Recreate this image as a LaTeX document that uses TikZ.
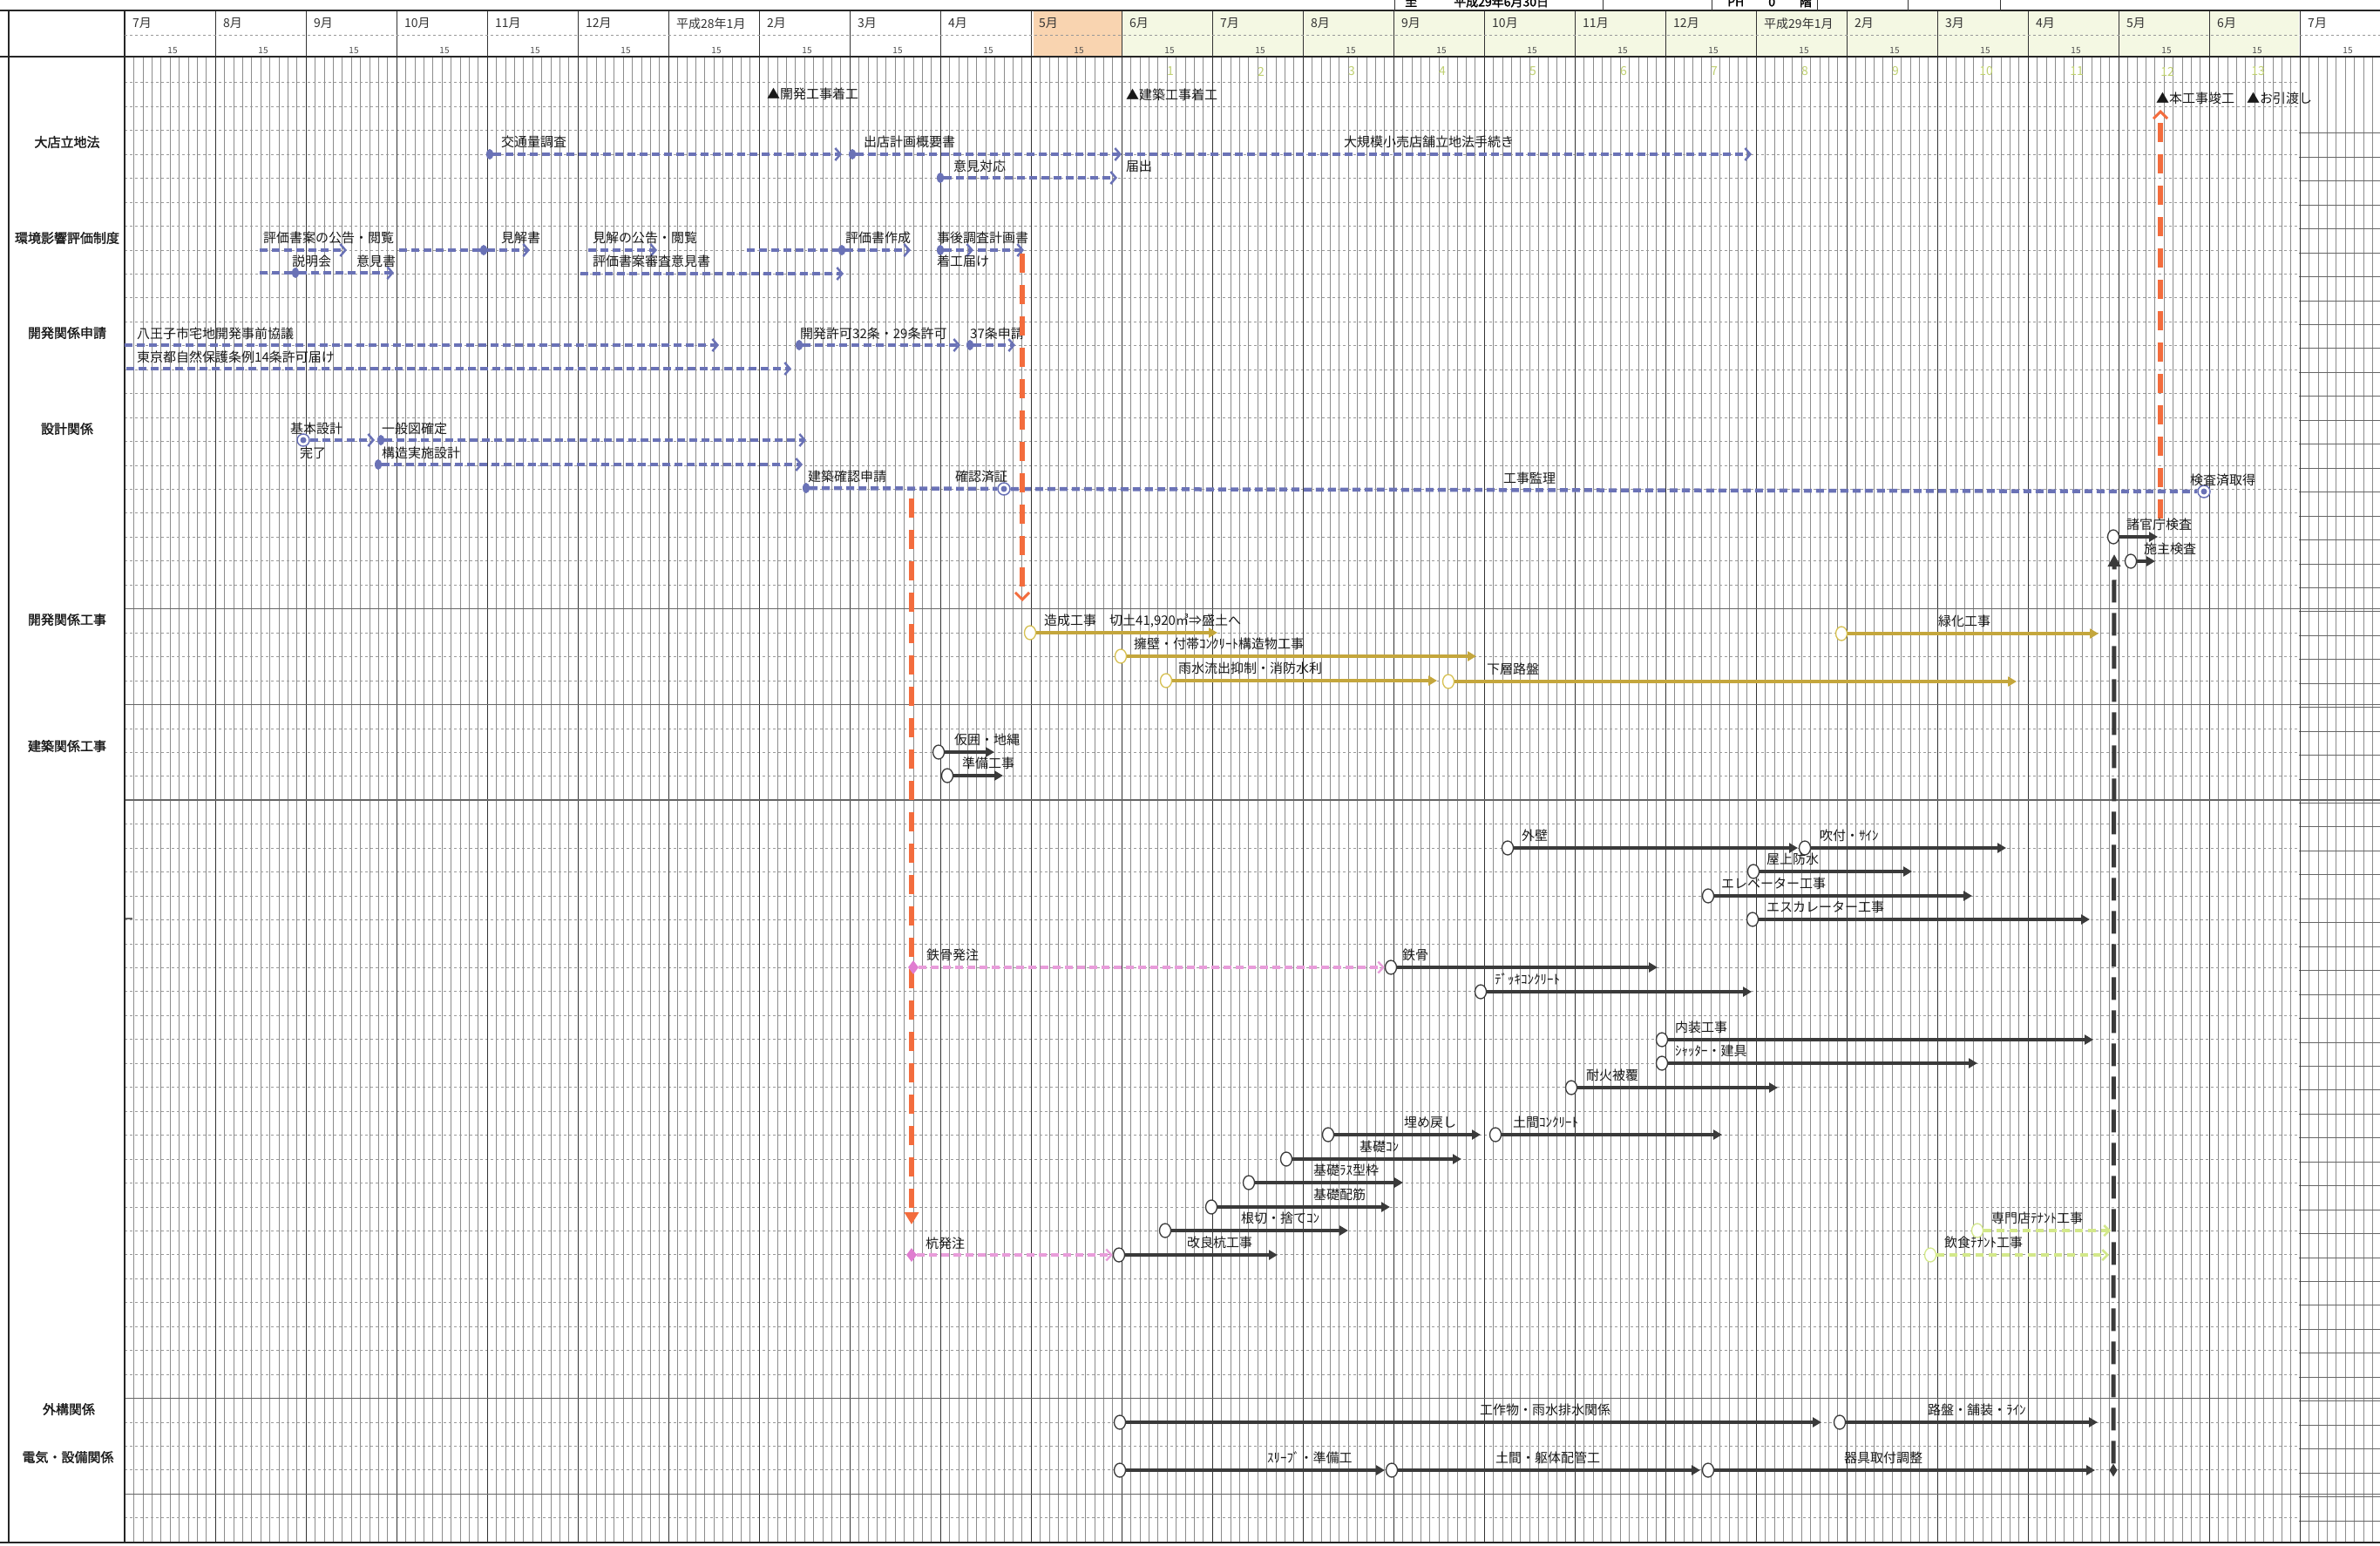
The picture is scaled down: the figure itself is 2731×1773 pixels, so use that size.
\documentclass[tikz,border=0pt]{standalone}
\usepackage{fontspec}
\setmainfont{Noto Sans CJK JP}
\newfontfamily\cjkb[FakeBold=1.6]{Noto Sans CJK JP}
\usetikzlibrary{arrows.meta,shapes.geometric}
\definecolor{bluec}{HTML}{6A72B6}
\definecolor{orangec}{HTML}{F36C3D}
\definecolor{goldc}{HTML}{C4A63C}
\definecolor{goldring}{HTML}{D6C050}
\definecolor{pinkc}{HTML}{E89CDA}
\definecolor{pinkd}{HTML}{E07CD0}
\definecolor{limec}{HTML}{D3E88A}
\definecolor{darkc}{HTML}{3A3A3A}
\definecolor{peach}{HTML}{F9D4B0}
\definecolor{cream}{HTML}{F4F8E3}
\definecolor{numc}{HTML}{BFD070}
\tikzset{
 lbl/.style={font=\fontsize{15}{17}\selectfont, inner sep=0pt, anchor=west, text=black!90},
 cat/.style={font=\cjkb\fontsize{15}{17}\selectfont, inner sep=0pt, text=black!90},
 mon/.style={font=\fontsize{14}{16}\selectfont, inner sep=0pt, anchor=west, text=black!80},
 fif/.style={font=\fontsize{10}{12}\selectfont, inner sep=0pt, text=black!70},
 numl/.style={font=\fontsize{14}{16}\selectfont, inner sep=0pt, text=numc},
 subl/.style={draw=black!45, line width=0.6pt},
 hdot/.style={draw=black!40, line width=0.6pt, dash pattern=on 2.5pt off 3.5pt},
 rstrip/.style={draw=black!60, line width=0.9pt},
 monl/.style={draw=black!80, line width=1pt},
 secl/.style={draw=black!60, line width=1.4pt},
 frame/.style={draw=black!85, line width=1.6pt},
 bluebar/.style={draw=bluec, line width=4.5pt, dash pattern=on 9pt off 5pt},
 bluearr/.style={bluebar, -{Straight Barb[length=6pt,width=14pt,line width=2.5pt]}},
 bdot/.style={ellipse, fill=bluec, inner sep=0pt, minimum width=8pt, minimum height=12pt},
 bring/.style={circle, draw=bluec, line width=1.5pt, fill=white, inner sep=0pt, minimum size=14pt},
 sdot/.style={circle, fill=bluec, inner sep=0pt, minimum size=7pt},
 blkbar/.style={draw=darkc, line width=4pt, -{Triangle[length=10pt,width=11pt]}},
 ocirc/.style={ellipse, draw=darkc, line width=1.3pt, fill=white, inner sep=0pt, minimum width=13pt, minimum height=16pt},
 goldbar/.style={draw=goldc, line width=4pt, -{Triangle[length=10pt,width=11pt]}},
 gcirc/.style={ellipse, draw=goldring, line width=1.3pt, fill=white, inner sep=0pt, minimum width=13pt, minimum height=16pt},
 limebar/.style={draw=limec, line width=4pt, dash pattern=on 9pt off 6pt, -{Straight Barb[length=6pt,width=12pt,line width=2.5pt]}},
 lcirc/.style={ellipse, draw=limec, line width=1.3pt, fill=white, inner sep=0pt, minimum width=13pt, minimum height=16pt},
 pinkbar/.style={draw=pinkc, line width=3.5pt, dash pattern=on 9pt off 5pt, -{Straight Barb[length=6pt,width=13pt,line width=2.3pt]}},
 pdia/.style={diamond, fill=pinkd, inner sep=0pt, minimum width=12pt, minimum height=16pt},
 orarr/.style={draw=orangec, line width=5.5pt, dash pattern=on 22pt off 14pt, -{Straight Barb[length=8pt,width=16pt,line width=3pt]}},
 ortri/.style={draw=orangec, line width=5.5pt, dash pattern=on 22pt off 14pt, -{Triangle[length=14pt,width=16pt]}},
 blkdash/.style={draw=darkc, line width=5pt, dash pattern=on 26pt off 12pt, -{Triangle[length=14pt,width=14pt]}},
 bdia/.style={diamond, fill=darkc, inner sep=0pt, minimum width=9pt, minimum height=15pt},
}
\newcommand\bk[6]{%
 \node[ocirc] (#1s) at (#2,#4) {};
 \coordinate (#1e) at (#3,#4);
 \draw[blkbar] (#1s) -- (#1e);
 \node[lbl] (#1l) at (#5,#4-14) {#6};}
\newcommand\gd[6]{%
 \node[gcirc] (#1s) at (#2,#4) {};
 \coordinate (#1e) at (#3,#4);
 \draw[goldbar] (#1s) -- (#1e);
 \node[lbl] (#1l) at (#5,#4-14) {#6};}
\newcommand\lm[6]{%
 \node[lcirc] (#1s) at (#2,#4) {};
 \coordinate (#1e) at (#3,#4);
 \draw[limebar] (#1s) -- (#1e);
 \node[lbl] (#1l) at (#5,#4-14) {#6};}
\begin{document}
\begin{tikzpicture}[x=1pt,y=-1pt]
\useasboundingbox (0,0) rectangle (2731,1773);
\clip (0,0) rectangle (2731,1773);
\fill[white] (0,0) rectangle (2731,1773);
% header fills
\fill[peach] (1186,12) rectangle (1288,65);
\fill[cream] (1288,12) rectangle (2638,65);
% grid
\foreach \m in {0,...,24}{\foreach \j in {1,...,9}{\draw[subl] ({143+104*\m+10.4*\j},65) -- ({143+104*\m+10.4*\j},1770);}}
\foreach \k in {1,...,61}{\draw[hdot] (143,{67.2+27.45*\k}) -- (2638,{67.2+27.45*\k});}
\foreach \k in {3,...,61}{\draw[rstrip] (2638,{70.5+27.45*\k}) -- (2731,{70.5+27.45*\k});}
\foreach \m in {0,...,24}{\draw[monl] ({143+104*\m},12) -- ({143+104*\m},1770);}
\foreach \k in {23,27,31,56,60}{\draw[secl] (143,{67.2+27.45*\k}) -- (2731,{67.2+27.45*\k});}
\draw[secl] (143,1054) -- (152,1054);
% frame
\draw[frame] (10,12) -- (10,1770);
\draw[frame] (0,12) -- (2731,12);
\draw[frame, line width=2.2pt] (0,65) -- (2731,65);
\draw[frame, line width=2.2pt] (0,1770) -- (2731,1770);
\draw[frame] (143,12) -- (143,1770);
\draw[hdot] (143,40) -- (2731,40);
\foreach \x in {1600,1839,1964,2085,2189,2295}{\draw[monl] (\x,0) -- (\x,12);}
\node[font=\cjkb\fontsize{14}{16}\selectfont, anchor=west, inner sep=0pt] (itaru) at (1612,2) {至　　　平成29年6月30日};
\node[font=\cjkb\fontsize{14}{16}\selectfont, anchor=west, inner sep=0pt] (ph) at (1982,2) {PH　　0　　階};
% months
\foreach \m/\t in {0/7月,1/8月,2/9月,3/10月,4/11月,5/12月,6/平成28年1月,7/2月,8/3月,9/4月,10/5月,11/6月,12/7月,13/8月,14/9月,15/10月,16/11月,17/12月,18/平成29年1月,19/2月,20/3月,21/4月,22/5月,23/6月,24/7月}{\node[mon] (mon\m) at ({143+104*\m+9},27) {\t};}
\foreach \m in {0,...,24}{\node[fif] (fif\m) at ({143+104*\m+55},58) {15};}
\foreach \n in {1,...,13}{\node[numl] (num\n) at ({143+104*(10+\n)+56},82) {\n};}
% categories
\node[cat] (c1) at (77,163) {大店立地法};
\node[cat] (c2) at (77,273) {環境影響評価制度};
\node[cat] (c3) at (77,382) {開発関係申請};
\node[cat] (c4) at (77,492) {設計関係};
\node[cat] (c5) at (77,711) {開発関係工事};
\node[cat] (c6) at (77,856) {建築関係工事};
\node[cat] (c7) at (79,1617) {外構関係};
\node[cat] (c8) at (78,1672) {電気・設備関係};
% milestones
\node[lbl] (ms1) at (880,108) {▲開発工事着工};
\node[lbl] (ms2) at (1292,109) {▲建築工事着工};
\node[lbl] (ms3) at (2474,113) {▲本工事竣工};
\node[lbl] (ms4) at (2578,113) {▲お引渡し};
% 大店立地法
\node[bdot] (kt) at (562,177) {}; \coordinate (kte) at (966,177); \draw[bluearr] (kt) -- (kte);
\node[lbl] (ktl) at (575,163) {交通量調査};
\node[bdot] (sk) at (978,177) {}; \coordinate (ske) at (1287,177); \draw[bluearr] (sk) -- (ske);
\node[lbl] (skl) at (991,163) {出店計画概要書};
\coordinate (dk) at (1291,177); \coordinate (dke) at (2010,177); \draw[bluearr] (dk) -- (dke);
\node[lbl] (dkl) at (1542,163) {大規模小売店舗立地法手続き};
\node[bdot] (ik) at (1079,204) {}; \coordinate (ike) at (1282,204); \draw[bluearr] (ik) -- (ike);
\node[lbl] (ikl) at (1094,191) {意見対応};
\node[lbl] (tdl) at (1292,191) {届出};
% 環境影響評価制度
\coordinate (e1s) at (298,287); \coordinate (e1e) at (398,287); \draw[bluearr] (e1s) -- (e1e);
\node[lbl] (e1l) at (302,273) {評価書案の公告・閲覧};
\coordinate (e2s) at (458,287); \node[bdot] (e2d) at (555,287) {}; \draw[bluebar] (e2s) -- (e2d);
\coordinate (e2e) at (608,287); \draw[bluearr] (e2d) -- (e2e);
\node[lbl] (e2l) at (575,273) {見解書};
\coordinate (e3s) at (675,287); \coordinate (e3e) at (754,287); \draw[bluearr] (e3s) -- (e3e);
\node[lbl] (e3l) at (680,273) {見解の公告・閲覧};
\coordinate (e4s) at (857,287); \node[bdot] (e4d) at (966,287) {}; \draw[bluebar] (e4s) -- (e4d);
\coordinate (e4e) at (1045,287); \draw[bluearr] (e4d) -- (e4e);
\node[lbl] (e4l) at (970,273) {評価書作成};
\node[bdot] (e5d) at (1079,287) {}; \coordinate (e5e) at (1117,287); \draw[bluearr] (e5d) -- (e5e);
\coordinate (e6s) at (1122,287); \coordinate (e6e) at (1175,287); \draw[bluearr] (e6s) -- (e6e);
\node[lbl] (e5l) at (1075,273) {事後調査計画書};
\node[lbl] (e6l) at (1075,300) {着工届け};
\coordinate (e7s) at (298,313); \node[bdot] (e7d) at (339,313) {}; \draw[bluebar] (e7s) -- (e7d);
\coordinate (e7e) at (452,313); \draw[bluearr] (e7d) -- (e7e);
\node[lbl] (e7l) at (335,300) {説明会};
\node[lbl] (e7m) at (409,300) {意見書};
\coordinate (e8s) at (666,314); \coordinate (e8e) at (968,314); \draw[bluearr] (e8s) -- (e8e);
\node[lbl] (e8l) at (680,300) {評価書案審査意見書};
% 開発関係申請
\coordinate (h1s) at (143,396); \coordinate (h1e) at (825,396); \draw[bluearr] (h1s) -- (h1e);
\node[lbl] (h1l) at (157,383) {八王子市宅地開発事前協議};
\node[bdot] (h2d) at (917,396) {}; \coordinate (h2e) at (1102,396); \draw[bluearr] (h2d) -- (h2e);
\node[bdot] (h3d) at (1113,396) {}; \coordinate (h3e) at (1165,396); \draw[bluearr] (h3d) -- (h3e);
\node[lbl] (h2l) at (918,383) {開発許可32条・29条許可};
\node[lbl] (h3l) at (1113,383) {37条申請};
\coordinate (t1s) at (145,423); \coordinate (t1e) at (908,423); \draw[bluearr] (t1s) -- (t1e);
\node[lbl] (t1l) at (157,410) {東京都自然保護条例14条許可届け};
% 設計関係
\node[bring] (s1r) at (348,505) {}; \node[sdot] (s1d) at (s1r) {};
\coordinate (s1e) at (430,505); \draw[bluearr] (s1r) -- (s1e);
\node[lbl] (s1l) at (333,492) {基本設計};
\node[lbl] (s1m) at (344,520) {完了};
\node[bdot] (s2d) at (437,505) {}; \coordinate (s2e) at (925,505); \draw[bluearr] (s2d) -- (s2e);
\node[lbl] (s2l) at (438,492) {一般図確定};
\node[bdot] (s3d) at (434,533) {}; \coordinate (s3e) at (921,533); \draw[bluearr] (s3d) -- (s3e);
\node[lbl] (s3l) at (438,520) {構造実施設計};
\node[bdot] (s4d) at (925,560) {};
\node[bring] (s5r) at (1152,561) {}; \node[sdot] (s5d) at (s5r) {};
\draw[bluebar] (s4d) -- (s5r);
\node[bring] (s6r) at (2529,564) {}; \node[sdot] (s6d) at (s6r) {};
\draw[bluebar] (s5r) -- (s6r);
\node[lbl] (s4l) at (927,547) {建築確認申請};
\node[lbl] (s5l) at (1096,547) {確認済証};
\node[lbl] (s6l) at (1725,549) {工事監理};
\node[lbl] (s7l) at (2513,551) {検査済取得};
% orange verticals
\coordinate (o1s) at (1173,291); \coordinate (o1e) at (1173,690); \draw[orarr] (o1s) -- (o1e);
\coordinate (o2s) at (1046,572); \coordinate (o2e) at (1046,1405); \draw[ortri] (o2s) -- (o2e);
\coordinate (o3s) at (2479,595); \coordinate (o3e) at (2479,126); \draw[orarr] (o3s) -- (o3e);
% inspections
\bk{sk1}{2425}{2476}{616}{2440}{諸官庁検査}
\bk{sk2}{2445}{2473}{644}{2460}{施主検査}
% 開発関係工事
\gd{g1}{1182}{1397}{726}{1198}{造成工事　切土41,920㎥⇒盛土へ}
\gd{g2}{1286}{1694}{753}{1301}{擁壁・付帯ｺﾝｸﾘｰﾄ構造物工事}
\gd{g3}{1338}{1649}{781}{1352}{雨水流出抑制・消防水利}
\gd{g4}{1662}{2314}{782}{1706}{下層路盤}
\gd{g5}{2113}{2408}{727}{2224}{緑化工事}
% 建築関係工事
\bk{k1}{1077}{1141}{863}{1095}{仮囲・地縄}
\bk{k2}{1087}{1151}{890}{1104}{準備工事}
\bk{k3}{1730}{2063}{973}{1746}{外壁}
\bk{k4}{2071}{2302}{973}{2088}{吹付・ｻｲﾝ}
\bk{k5}{2012}{2194}{1000}{2027}{屋上防水}
\bk{k6}{1960}{2263}{1028}{1975}{エレベーター工事}
\bk{k7}{2011}{2398}{1055}{2027}{エスカレーター工事}
\bk{k8}{1596}{1902}{1110}{1609}{鉄骨}
\node[pdia] (p1) at (1048,1110) {}; \draw[pinkbar] (p1) -- (k8s);
\node[lbl] (p1l) at (1063,1096) {鉄骨発注};
\bk{k9}{1699}{2010}{1138}{1715}{ﾃﾞｯｷｺﾝｸﾘｰﾄ}
\bk{k10}{1907}{2402}{1193}{1922}{内装工事}
\bk{k11}{1907}{2269}{1220}{1922}{ｼｬｯﾀｰ・建具}
\bk{k12}{1803}{2040}{1248}{1820}{耐火被覆}
\bk{k13}{1716}{1976}{1302}{1736}{土間ｺﾝｸﾘｰﾄ}
\bk{k14}{1524}{1699}{1302}{1611}{埋め戻し}
\bk{k15}{1476}{1677}{1330}{1560}{基礎ｺﾝ}
\bk{k16}{1433}{1610}{1357}{1507}{基礎ﾗｽ型枠}
\bk{k17}{1390}{1595}{1385}{1507}{基礎配筋}
\bk{k18}{1337}{1547}{1412}{1424}{根切・捨てｺﾝ}
\bk{k19}{1284}{1466}{1440}{1362}{改良杭工事}
\node[pdia] (p2) at (1046,1440) {}; \draw[pinkbar] (p2) -- (k19s);
\node[lbl] (p2l) at (1062,1427) {杭発注};
\lm{l1}{2269}{2422}{1412}{2285}{専門店ﾃﾅﾝﾄ工事}
\lm{l2}{2215}{2420}{1440}{2231}{飲食ﾃﾅﾝﾄ工事}
% 外構関係
\bk{x1}{1285}{2090}{1632}{1698}{工作物・雨水排水関係}
\bk{x2}{2111}{2407}{1632}{2212}{路盤・舗装・ﾗｲﾝ}
% 電気・設備関係
\bk{d1}{1285}{1589}{1687}{1454}{ｽﾘｰﾌﾞ・準備工}
\bk{d2}{1597}{1951}{1687}{1716}{土間・躯体配管工}
\bk{d3}{1960}{2404}{1687}{2116}{器具取付調整}
\node[bdia] (ed) at (2425,1687) {};
\coordinate (bve) at (2426,636); \draw[blkdash] (ed) -- (bve);
\end{tikzpicture}
\end{document}
